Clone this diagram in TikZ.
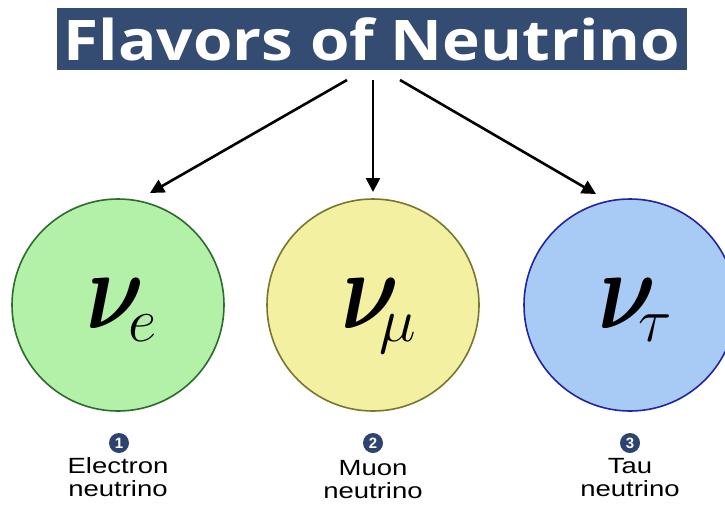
\RequirePackage{fix-cm}
\documentclass[tikz,border=0pt]{standalone}
\usepackage{amsmath}
\usepackage{bm}
\usepackage{graphicx}
\usepackage{fontspec}
\newfontfamily\titlefont{Open Sans}[UprightFont=* Bold]
\newfontfamily\labelfont{Liberation Sans}
\usetikzlibrary{arrows.meta}
\definecolor{titleblue}{HTML}{344B72}
\definecolor{numblue}{HTML}{2E4470}
\definecolor{gfill}{HTML}{B3F0A8}
\definecolor{gline}{HTML}{2E6B2E}
\definecolor{yfill}{HTML}{F4F0A2}
\definecolor{yline}{HTML}{77772E}
\definecolor{bfill}{HTML}{A8CBF5}
\definecolor{bline}{HTML}{2424A0}
\tikzset{
  flav/.style={circle, minimum size=212pt, inner sep=0pt, line width=1.6pt},
  numdot/.style={circle, fill=numblue, text=white, inner sep=0pt, minimum size=20pt, font=\labelfont\bfseries\fontsize{15}{15}\selectfont},
  lbl/.style={align=center, font=\labelfont\fontsize{22}{24}\selectfont, inner sep=0pt},
  arr/.style={line width=2.6pt, -{Triangle[length=14pt,width=14pt]}},
  nusym/.style={inner sep=0pt, anchor=base west, font=\fontsize{112}{112}\selectfont}
}
\newcommand{\wide}[2]{\scalebox{#1}[1]{#2}}
\newcommand{\nusub}[2]{\rlap{\wide{0.8}{$\bm{\nu}$}}\hspace*{#1}\raisebox{-13pt}{\fontsize{62}{62}\selectfont$#2$}}
\begin{document}
\begin{tikzpicture}[x=1pt,y=-1pt]
\useasboundingbox[fill=white] (0,0) rectangle (725,504);
\node[fill=titleblue, minimum width=630pt, minimum height=62pt, inner sep=0pt, text=white, font=\titlefont\fontsize{56}{56}\selectfont] (title) at (372,39) {\wide{1.14}{Flavors of Neutrino}};
\node[flav, fill=gfill, draw=gline] (c1) at (118,305) {};
\node[flav, fill=yfill, draw=yline] (c2) at (373,305) {};
\node[flav, fill=bfill, draw=bline] (c3) at (630,305) {};
\node[nusym] (s1) at (86,328) {\nusub{42pt}{e}};
\node[nusym] (s2) at (341,328) {\nusub{38pt}{\mu}};
\node[nusym] (s3) at (598,328) {\nusub{40pt}{\tau}};
\coordinate (a1s) at (347,80); \coordinate (a1e) at (150,193);
\coordinate (a2s) at (373,80); \coordinate (a2e) at (373,192);
\coordinate (a3s) at (400,80); \coordinate (a3e) at (596,194);
\draw[arr] (a1s) -- (a1e);
\draw[arr] (a2s) -- (a2e);
\draw[arr] (a3s) -- (a3e);
\node[numdot] (n1) at (119,443) {1};
\node[numdot] (n2) at (373,443) {2};
\node[numdot] (n3) at (630,443) {3};
\node[lbl, anchor=base] (l1) at (118,473) {\wide{1.25}{Electron}};
\node[lbl, anchor=base] (m1) at (118,496) {\wide{1.25}{neutrino}};
\node[lbl, anchor=base] (l2) at (373,475) {\wide{1.25}{Muon}};
\node[lbl, anchor=base] (m2) at (373,498) {\wide{1.25}{neutrino}};
\node[lbl, anchor=base] (l3) at (630,473) {\wide{1.25}{Tau}};
\node[lbl, anchor=base] (m3) at (630,496) {\wide{1.25}{neutrino}};
\end{tikzpicture}
\end{document}
